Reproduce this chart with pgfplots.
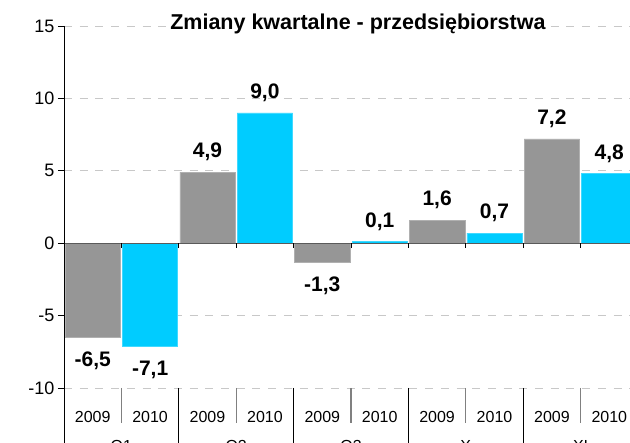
\documentclass[border=0pt]{standalone}
\usepackage{pgfplots}
\pgfplotsset{compat=1.18}
\usepackage{fontspec}
\setmainfont{Liberation Sans}
\definecolor{bgray}{RGB}{150,150,150}
\definecolor{bcyan}{RGB}{0,204,255}
\definecolor{gridc}{RGB}{200,200,200}
\definecolor{zeroc}{RGB}{90,90,90}
\begin{document}
\begin{tikzpicture}
\useasboundingbox (0,0) rectangle (630pt,443pt);
\begin{axis}[
  at={(64pt,55pt)}, anchor=south west,
  scale only axis, width=574pt, height=362pt,
  xmin=-0.5, xmax=9.5, ymin=-10, ymax=15,
  clip=false,
  ybar, bar shift=0pt, bar width=0.965,
  axis line style={draw=none},
  ytick={-10,-5,0,5,10,15},
  ytick pos=left, tick align=outside,
  major tick length=6pt,
  ytick style={black, line width=0.8pt},
  xtick={0,...,9},
  xticklabels={2009,2010,2009,2010,2009,2010,2009,2010,2009,2010},
  x tick style={draw=none},
  xticklabel style={anchor=north, yshift=-14pt, font=\fontsize{16}{18}\selectfont},
  extra x ticks={0.5,2.5,4.5,6.5,8.5},
  extra x tick labels={Q1,Q2,Q3,X,XI},
  extra x tick style={xticklabel style={yshift=-29pt}, grid=none},
  yticklabel style={font=\fontsize{18}{20}\selectfont},
  /pgf/number format/assume math mode=true,
  ymajorgrids, grid style={gridc, line width=0.8pt, dash pattern=on 8pt off 7.7pt},
  title={Zmiany kwartalne - przedsiębiorstwa},
  title style={at={(0.512,1)}, anchor=base, yshift=-10pt, fill=white, inner sep=2pt, font=\bfseries\fontsize{21.5}{24}\selectfont},
  nodes near coords={\pgfmathprintnumber[fixed,fixed zerofill,precision=1,use comma]{\pgfplotspointmeta}},
  nodes near coords align={vertical},
  every node near coord/.append style={font=\bfseries\fontsize{21}{24}\selectfont, text height=15pt, text depth=0pt, inner ysep=14pt, black},
]
\addplot[fill=bgray, draw=bgray!75!white, line width=0.6pt] coordinates {(0,-6.5) (2,4.9) (4,-1.3) (6,1.6) (8,7.2)};
\addplot[fill=bcyan, draw=bcyan!75!white, line width=0.6pt] coordinates {(1,-7.1) (3,9.0) (5,0.1) (7,0.7) (9,4.8)};
\draw[zeroc, line width=0.9pt] (axis cs:-0.5,0) -- (axis cs:9.5,0);
\pgfplotsinvokeforeach{0.5,1.5,2.5,3.5,4.5,5.5,6.5,7.5,8.5}{\draw[black, line width=0.8pt] (axis cs:#1,0) -- ([yshift=-5pt]axis cs:#1,0);}
\draw[black, line width=0.9pt] (axis cs:-0.5,15) -- ([yshift=-70pt]axis cs:-0.5,-10);
\pgfplotsinvokeforeach{0.5,2.5,4.5,6.5,8.5}{\draw[gray, line width=1.2pt] (axis cs:#1,-10) -- ([yshift=-35pt]axis cs:#1,-10);}
\pgfplotsinvokeforeach{1.5,3.5,5.5,7.5}{\draw[black, line width=0.8pt] (axis cs:#1,-10) -- ([yshift=-70pt]axis cs:#1,-10);}
\end{axis}
\end{tikzpicture}
\end{document}
